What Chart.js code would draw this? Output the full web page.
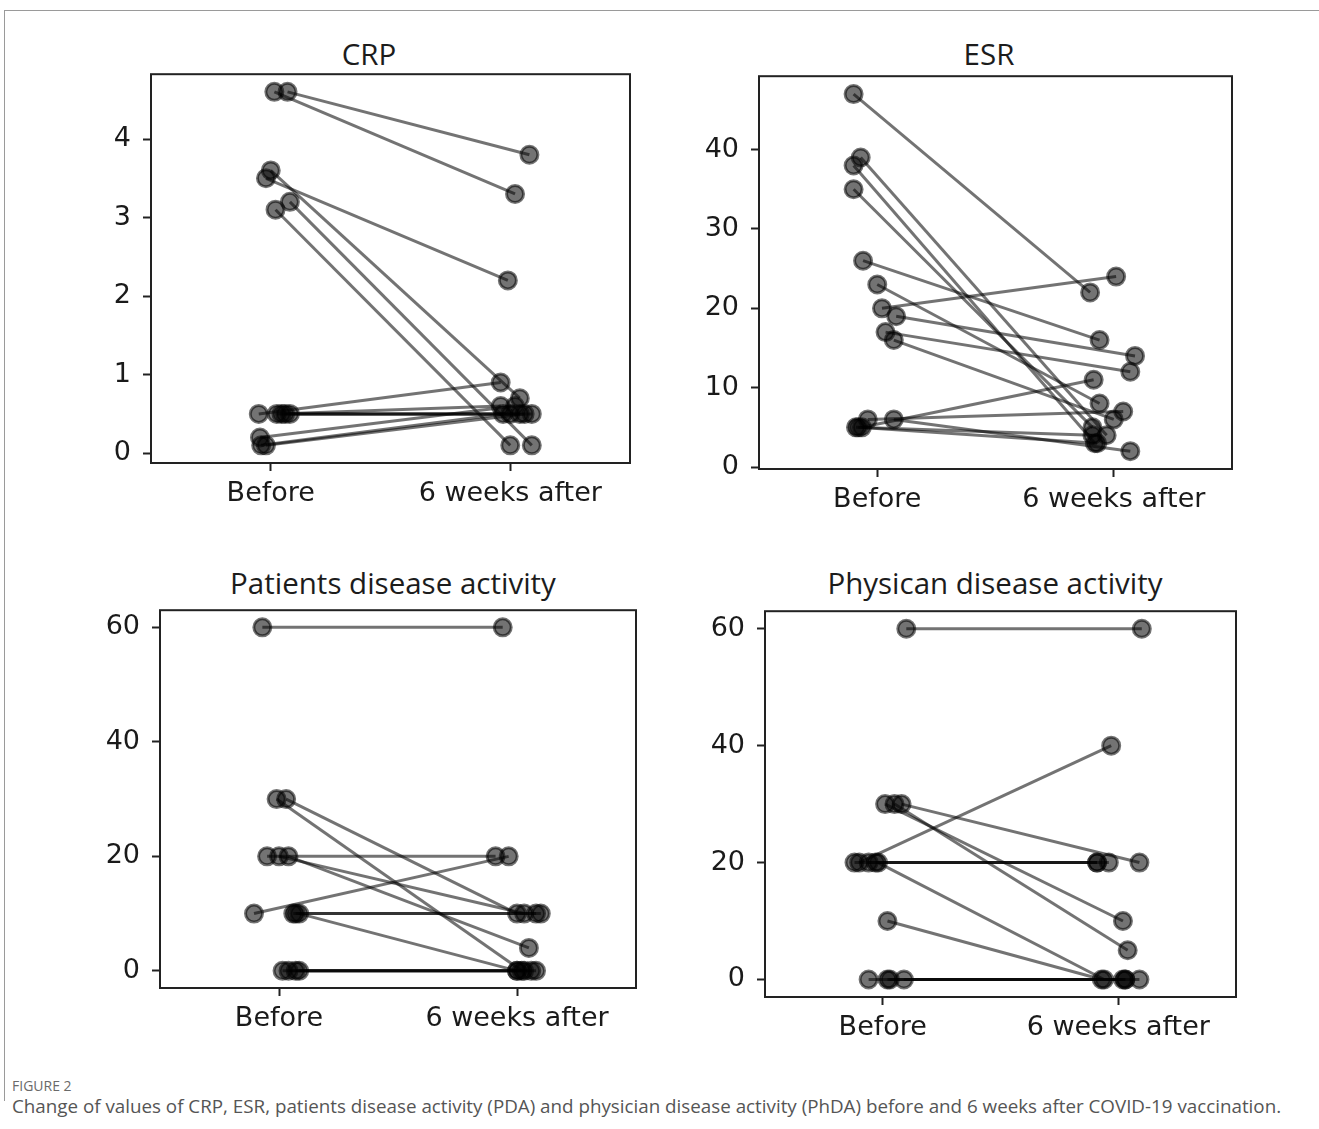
<!DOCTYPE html>
<html>
<head>
<meta charset="utf-8">
<script src="https://cdn.jsdelivr.net/npm/chart.js@4.4.0/dist/chart.umd.min.js"></script>
<style>
  html, body { margin: 0; padding: 0; background: #fff; }
  body { width: 1319px; height: 1129px; position: relative; overflow: hidden; font-family: "Open Sans", sans-serif; }
  .sheet { position: absolute; left: 4px; top: 10px; width: 1330px; height: 1090px;
           border-top: 1px solid #9a9a9a; border-left: 1px solid #9a9a9a; }
  .panel { position: absolute; }
  .ttl { position: absolute; transform: translate(-50%, -50%); font-size: 29.5px; color: #1c1c1c; white-space: nowrap; }
  .figno { position: absolute; left: 12px; top: 1076px; font-size: 14px; color: #6a6a6a; }
  .caption { position: absolute; left: 12px; top: 1093px; font-size: 18.8px; color: #555; white-space: nowrap; }
</style>
</head>
<body>
<div class="sheet"></div>
<div id="charts"></div>
<div class="figno">FIGURE 2</div>
<div class="caption">Change of values of CRP, ESR, patients disease activity (PDA) and physician disease activity (PhDA) before and 6 weeks after COVID-19 vaccination.</div>

<script>
// x categories
const timepoints = ["Before", "6 weeks after"];

// CRP - one entry per patient, before / after, plus the horizontal jitter of each dot
const crpBefore = [4.6, 4.6, 3.5, 3.6, 3.1, 3.2, 0.5, 0.5, 0.5, 0.5, 0.5, 0.2, 0.1, 0.1];
const crpAfter  = [3.8, 3.3, 2.2, 0.7, 0.1, 0.1, 0.9, 0.6, 0.5, 0.5, 0.5, 0.6, 0.5, 0.5];
const crpJitterBefore = [0.07, 0.015, -0.02, 0.0, 0.02, 0.08, -0.05, 0.025, 0.045, 0.06, 0.08, -0.045, -0.04, -0.02];
const crpJitterAfter  = [0.08, 0.02, -0.01, 0.04, 0.0, 0.09, -0.04, -0.04, 0.0, 0.04, 0.09, 0.02, -0.03, 0.06];
const crpTicks = [0, 1, 2, 3, 4];

// ESR
const esrBefore = [47, 39, 38, 35, 26, 23, 20, 19, 17, 16, 5, 5, 6, 6, 5];
const esrAfter  = [22, 4, 3, 5, 16, 8, 24, 14, 12, 6, 4, 11, 7, 2, 3];
const esrJitterBefore = [-0.10, -0.07, -0.10, -0.10, -0.06, 0.0, 0.02, 0.08, 0.035, 0.07, -0.09, -0.065, -0.04, 0.07, -0.08];
const esrJitterAfter  = [-0.10, -0.03, -0.08, -0.09, -0.06, -0.06, 0.01, 0.09, 0.07, 0.0, -0.09, -0.085, 0.04, 0.07, -0.07];
const esrTicks = [0, 10, 20, 30, 40];

// Patients disease activity
const pdaBefore = [60, 30, 30, 20, 20, 20, 10, 10, 10, 10, 0, 0, 0, 0];
const pdaAfter  = [60, 0, 10, 20, 10, 4, 20, 10, 10, 0, 0, 0, 0, 0];
const pdaJitterBefore = [-0.07, -0.01, 0.03, -0.05, 0.0, 0.04, -0.105, 0.06, 0.07, 0.085, 0.015, 0.04, 0.07, 0.085];
const pdaJitterAfter  = [-0.06, 0.02, 0.0, -0.09, 0.03, 0.05, -0.035, 0.08, 0.1, 0.0, 0.03, 0.06, 0.08, 0.0];
const pdaTicks = [0, 20, 40, 60];

// Physician disease activity
const phdaBefore = [60, 20, 20, 20, 20, 30, 30, 30, 20, 10, 0, 0, 0, 0];
const phdaAfter  = [60, 40, 20, 20, 20, 20, 10, 5, 0, 0, 0, 0, 0, 0];
const phdaJitterBefore = [0.10, -0.10, -0.12, -0.06, -0.03, 0.08, 0.01, 0.05, -0.02, 0.02, -0.06, 0.02, 0.03, 0.09];
const phdaJitterAfter  = [0.10, -0.03, -0.09, -0.09, -0.04, 0.09, 0.02, 0.04, -0.06, -0.07, 0.03, 0.03, 0.09, 0.02];
const phdaTicks = [0, 20, 40, 60];

const ink = "rgba(0,0,0,0.55)";
const tickFont = { family: "'DejaVu Sans', sans-serif", size: 27 };

// draw the box round the axes
const framePlugin = {
  id: "frame",
  afterDraw(chart) {
    const { ctx, chartArea: a } = chart;
    ctx.save();
    ctx.strokeStyle = "#222";
    ctx.lineWidth = 2;
    ctx.strokeRect(a.left, a.top, a.right - a.left, a.bottom - a.top);
    ctx.restore();
  }
};

const panels = [
  { title: "CRP", before: crpBefore, after: crpAfter, jb: crpJitterBefore, ja: crpJitterAfter,
    ticks: crpTicks, min: -0.125, max: 4.825, box: [151, 74, 630, 463], titleAt: [369, 53] },
  { title: "ESR", before: esrBefore, after: esrAfter, jb: esrJitterBefore, ja: esrJitterAfter,
    ticks: esrTicks, min: -0.25, max: 49.25, box: [759, 76, 1232, 469], titleAt: [989, 53] },
  { title: "Patients disease activity", before: pdaBefore, after: pdaAfter, jb: pdaJitterBefore, ja: pdaJitterAfter,
    ticks: pdaTicks, min: -3, max: 63, box: [160, 610, 636, 988], titleAt: [393, 582] },
  { title: "Physican disease activity", before: phdaBefore, after: phdaAfter, jb: phdaJitterBefore, ja: phdaJitterAfter,
    ticks: phdaTicks, min: -3, max: 63, box: [765, 611, 1236, 997], titleAt: [995, 582] }
];

const YW = 90, XH = 70, PR = 20;

function buildChart(canvas, p) {
  const datasets = p.before.map((v, i) => ({
    data: [{ x: 0 + p.jb[i], y: v }, { x: 1 + p.ja[i], y: p.after[i] }],
    showLine: true,
    borderColor: ink,
    borderWidth: 3,
    backgroundColor: ink,
    pointRadius: 8.5,
    pointBorderWidth: 3,
    pointBackgroundColor: ink,
    pointBorderColor: ink
  }));

  return new Chart(canvas, {
    type: "scatter",
    data: { datasets },
    options: {
      responsive: false,
      maintainAspectRatio: false,
      animation: false,
      devicePixelRatio: 1,
      layout: { padding: { top: 0, right: PR, left: 0, bottom: 0 }, autoPadding: false },
      plugins: { legend: { display: false }, tooltip: { enabled: false } },
      scales: {
        x: {
          type: "linear", min: -0.5, max: 1.5,
          afterBuildTicks: (s) => { s.ticks = timepoints.map((_, i) => ({ value: i })); },
          afterFit: (s) => { s.height = XH; },
          ticks: { callback: (v) => timepoints[v], font: tickFont, color: "#1a1a1a", padding: 7, maxRotation: 0, autoSkip: false },
          grid: { display: true, drawOnChartArea: false, drawTicks: true, tickLength: 8, tickWidth: 2, tickColor: "#222" },
          border: { display: false }
        },
        y: {
          min: p.min, max: p.max,
          afterBuildTicks: (s) => { s.ticks = p.ticks.map((v) => ({ value: v })); },
          afterFit: (s) => { s.width = YW; },
          ticks: { callback: (v) => String(v), font: tickFont, color: "#1a1a1a", padding: 12 },
          grid: { display: true, drawOnChartArea: false, drawTicks: true, tickLength: 8, tickWidth: 2, tickColor: "#222" },
          border: { display: false }
        }
      }
    },
    plugins: [framePlugin]
  });
}

function makeCanvas(wrap, w, h) {
  const canvas = document.createElement("canvas");
  canvas.width = w;
  canvas.height = h;
  canvas.style.width = w + "px";
  canvas.style.height = h + "px";
  wrap.appendChild(canvas);
  return canvas;
}

function makePanel(p) {
  const [l, t, r, b] = p.box;
  const holder = document.getElementById("charts");

  const ttl = document.createElement("div");
  ttl.className = "ttl";
  ttl.textContent = p.title;
  ttl.style.left = p.titleAt[0] + "px";
  ttl.style.top = p.titleAt[1] + "px";
  holder.appendChild(ttl);

  const wrap = document.createElement("div");
  wrap.className = "panel";
  wrap.style.left = (l - YW) + "px";
  holder.appendChild(wrap);
  const w = (r - l) + YW + PR;

  // first pass: find out how much room the y axis keeps above the plot
  let canvas = makeCanvas(wrap, w, (b - t) + 20 + XH);
  let chart = buildChart(canvas, p);
  const top = chart.chartArea.top;
  chart.destroy();
  wrap.removeChild(canvas);

  // second pass with a canvas sized so the plot box lands where the reference has it
  canvas = makeCanvas(wrap, w, Math.round((b - t) + top + XH));
  chart = buildChart(canvas, p);
  wrap.style.top = Math.round(t - chart.chartArea.top) + "px";
  return chart;
}

panels.forEach(makePanel);
</script>
</body>
</html>
